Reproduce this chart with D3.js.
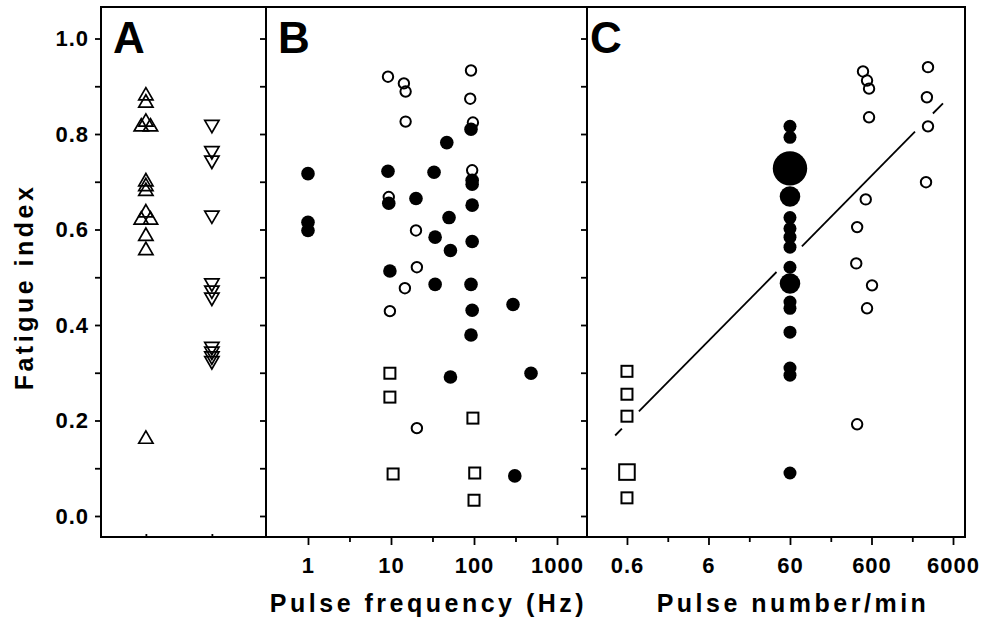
<!DOCTYPE html>
<html>
<head>
<meta charset="utf-8">
<script src="https://cdn.jsdelivr.net/npm/d3@7"></script>
<style>
  body { margin: 0; background: #fff; }
  text { font-family: "Liberation Sans", Arial, sans-serif; fill: #000; }
</style>
</head>
<body>
<div id="chart"></div>
<script>
// ---- data ----
// panel A (no x axis values, two groups)
const aUpGroup = [1, 1, 1, 0.93, 1.07, 1, 1, 1, 1, 0.93, 1.07, 1, 1, 1];
const aUpFatigue = [0.88, 0.865, 0.825, 0.815, 0.815, 0.70, 0.69, 0.68, 0.635, 0.62, 0.62, 0.586, 0.556, 0.161];
const aDownGroup = [2, 2, 2, 2, 2, 2, 2, 2, 2, 2, 2];
const aDownFatigue = [0.82, 0.765, 0.745, 0.63, 0.488, 0.473, 0.458, 0.355, 0.345, 0.335, 0.325];

// panel B: pulse frequency (Hz)
const bOpenHz = [9.2, 14.3, 15, 15, 92, 90, 97, 95, 9.4, 20, 20.5, 14.7, 9.7, 20.5];
const bOpenFatigue = [0.92, 0.906, 0.889, 0.826, 0.933, 0.874, 0.824, 0.724, 0.668, 0.598, 0.521, 0.477, 0.429, 0.184];
const bFilledHz = [1, 1, 1, 47, 92, 9.2, 33, 95, 95, 9.4, 20, 95, 50, 34, 52, 95, 9.7, 34, 92, 295, 95, 92, 52, 486, 310];
const bFilledFatigue = [0.717, 0.615, 0.598, 0.782, 0.81, 0.722, 0.72, 0.703, 0.695, 0.655, 0.665, 0.651, 0.625, 0.584, 0.556, 0.575, 0.513, 0.485, 0.485, 0.443, 0.431, 0.379, 0.291, 0.299, 0.084];
const bSquareHz = [9.7, 9.7, 97, 10.6, 102, 100];
const bSquareFatigue = [0.299, 0.249, 0.205, 0.088, 0.09, 0.033];
const bMajorTicks = [1, 10, 100, 1000];
const bMinorTicks = [3.16, 31.6, 316];

// panel C: pulse number/min
const cOpenN = [472, 529, 560, 560, 2960, 2870, 2960, 2800, 510, 400, 390, 609, 529, 400];
const cOpenFatigue = [0.931, 0.912, 0.895, 0.835, 0.94, 0.877, 0.816, 0.699, 0.663, 0.605, 0.529, 0.483, 0.435, 0.192];
const cFilledN = [60, 60, 60, 60, 60, 60, 60, 60, 60, 60, 60, 60, 60, 60, 60, 60];
const cFilledFatigue = [0.816, 0.793, 0.728, 0.669, 0.625, 0.602, 0.584, 0.563, 0.521, 0.487, 0.448, 0.435, 0.385, 0.31, 0.295, 0.09];
const cFilledWeight = [1, 1, 7, 2.5, 1, 1, 1, 1, 1, 2.5, 1, 1, 1, 1, 1, 1];
const cSquareN = [0.6, 0.6, 0.6, 0.6, 0.6];
const cSquareFatigue = [0.303, 0.255, 0.209, 0.092, 0.038];
const cSquareWeight = [1, 1, 1, 2, 1];
const cMajorTicks = [0.6, 6, 60, 600, 6000];
const cMinorTicks = [1.9, 19, 190, 1900];

// regression line in C, drawn with gaps around the markers
const fitIntercept = 0.232;
const fitSlope = 0.173;
const fitDrawnRanges = [[0.43, 0.52], [0.84, 41], [84, 2050], [3400, 4520]];

const yMajor = [0, 0.2, 0.4, 0.6, 0.8, 1.0];
const yMinor = [0.1, 0.3, 0.5, 0.7, 0.9];

// ---- layout ----
const w = 984, h = 619;
const frameTop = 7, frameBottom = 537;
const xLeft = 101, xAB = 266, xBC = 587, xRight = 965;

const svg = d3.select("#chart").append("svg")
  .attr("width", w)
  .attr("height", h)
  .style("background", "#fff");

const y = d3.scaleLinear().domain([-0.044, 1.066]).range([frameBottom, frameTop]);
const xA = d3.scaleLinear().domain([0.32, 2.82]).range([xLeft, xAB]);
const xB = d3.scaleLog().domain([0.312, 2297]).range([xAB, xBC]);
const xC = d3.scaleLog().domain([0.194, 8420]).range([xBC, xRight]);
const rC = d3.scaleSqrt().domain([0, 1]).range([0, 6.5]);

// frame
svg.append("rect")
  .attr("x", xLeft).attr("y", frameTop)
  .attr("width", xRight - xLeft).attr("height", frameBottom - frameTop)
  .attr("fill", "none").attr("stroke", "#000").attr("stroke-width", 2);
[xAB, xBC].forEach(function(x){
  svg.append("line")
    .attr("x1", x).attr("x2", x).attr("y1", frameTop).attr("y2", frameBottom)
    .attr("stroke", "#000").attr("stroke-width", 2);
});

function styleAxis(g, fs){
  g.select(".domain").remove();
  g.selectAll("line").attr("stroke", "#000").attr("stroke-width", 1.8);
  g.selectAll("text")
    .attr("fill", "#000")
    .style("font-size", fs + "px")
    .style("font-weight", "bold")
    .style("letter-spacing", "1px")
    .style("font-family", '"Liberation Sans", Arial, sans-serif');
}

// y axis (left, labelled)
svg.append("g").attr("transform", `translate(${xLeft},0)`)
  .call(d3.axisLeft(y).tickValues(yMajor).tickSize(6).tickPadding(6).tickFormat(d3.format(".1f")))
  .call(styleAxis, 22);
svg.append("g").attr("transform", `translate(${xLeft},0)`)
  .call(d3.axisLeft(y).tickValues(yMinor).tickSize(6).tickFormat(""))
  .call(styleAxis, 22);
// ticks on the panel dividers, pointing left
[xAB, xBC].forEach(function(x){
  svg.append("g").attr("transform", `translate(${x},0)`)
    .call(d3.axisLeft(y).tickValues(yMajor.concat(yMinor)).tickSize(6).tickFormat(""))
    .call(styleAxis, 22);
});

// bottom axes
svg.append("g").attr("transform", `translate(0,${frameBottom})`)
  .call(d3.axisTop(xA).tickValues([1, 2]).tickSize(3).tickFormat(""))
  .call(styleAxis, 22);

svg.append("g").attr("transform", `translate(0,${frameBottom})`)
  .call(d3.axisBottom(xB).tickValues(bMajorTicks).tickSize(8).tickPadding(12).tickFormat(d3.format("d")))
  .call(styleAxis, 22);
svg.append("g").attr("transform", `translate(0,${frameBottom})`)
  .call(d3.axisBottom(xB).tickValues(bMinorTicks).tickSize(5).tickFormat(""))
  .call(styleAxis, 22);

svg.append("g").attr("transform", `translate(0,${frameBottom})`)
  .call(d3.axisBottom(xC).tickValues(cMajorTicks).tickSize(8).tickPadding(12).tickFormat(d => String(d)))
  .call(styleAxis, 22);
svg.append("g").attr("transform", `translate(0,${frameBottom})`)
  .call(d3.axisBottom(xC).tickValues(cMinorTicks).tickSize(5).tickFormat(""))
  .call(styleAxis, 22);

// axis titles
const titleStyle = function(t){
  t.style("font-size", "25px").style("font-weight", "bold").style("letter-spacing", "3.5px");
};
svg.append("text")
  .attr("transform", "translate(33,287) rotate(-90)")
  .attr("text-anchor", "middle")
  .call(titleStyle)
  .text("Fatigue index");
svg.append("text")
  .attr("x", (xAB + xBC) / 2 + 2).attr("y", 612)
  .attr("text-anchor", "middle")
  .call(titleStyle)
  .text("Pulse frequency (Hz)");
svg.append("text")
  .attr("x", 793).attr("y", 612)
  .attr("text-anchor", "middle")
  .call(titleStyle)
  .text("Pulse number/min");

// panel letters
[["A", 113], ["B", 278], ["C", 590]].forEach(function(p){
  svg.append("text")
    .attr("x", p[1]).attr("y", 53)
    .style("font-size", "44px")
    .style("font-weight", "bold")
    .text(p[0]);
});

// ---- panel A ----
const tri = d3.symbol().type(d3.symbolTriangle).size(88);
const aUp = aUpGroup.map((g, i) => ({g: g, v: aUpFatigue[i]}));
const aDown = aDownGroup.map((g, i) => ({g: g, v: aDownFatigue[i]}));

svg.append("g").selectAll("path")
  .data(aUp).enter().append("path")
  .attr("d", tri)
  .attr("transform", d => `translate(${xA(d.g)},${y(d.v)})`)
  .attr("fill", "none").attr("stroke", "#000").attr("stroke-width", 1.7);

svg.append("g").selectAll("path")
  .data(aDown).enter().append("path")
  .attr("d", tri)
  .attr("transform", d => `translate(${xA(d.g)},${y(d.v)}) rotate(180)`)
  .attr("fill", "none").attr("stroke", "#000").attr("stroke-width", 1.7);

// ---- panel B ----
const bOpen = bOpenHz.map((f, i) => ({f: f, v: bOpenFatigue[i]}));
const bFilled = bFilledHz.map((f, i) => ({f: f, v: bFilledFatigue[i]}));
const bSquare = bSquareHz.map((f, i) => ({f: f, v: bSquareFatigue[i]}));

svg.append("g").selectAll("circle")
  .data(bOpen).enter().append("circle")
  .attr("cx", d => xB(d.f)).attr("cy", d => y(d.v)).attr("r", 5.2)
  .attr("fill", "none").attr("stroke", "#000").attr("stroke-width", 2);

svg.append("g").selectAll("circle")
  .data(bFilled).enter().append("circle")
  .attr("cx", d => xB(d.f)).attr("cy", d => y(d.v)).attr("r", 6.8)
  .attr("fill", "#000");

svg.append("g").selectAll("rect")
  .data(bSquare).enter().append("rect")
  .attr("x", d => xB(d.f) - 5.5).attr("y", d => y(d.v) - 5.5)
  .attr("width", 11).attr("height", 11)
  .attr("fill", "none").attr("stroke", "#000").attr("stroke-width", 2);

// ---- panel C ----
const fitLine = d3.line()
  .x(d => xC(d))
  .y(d => y(fitIntercept + fitSlope * Math.log10(d)));
svg.append("g").selectAll("path")
  .data(fitDrawnRanges).enter().append("path")
  .attr("d", d => fitLine(d))
  .attr("fill", "none").attr("stroke", "#000").attr("stroke-width", 1.8);

const cOpen = cOpenN.map((n, i) => ({n: n, v: cOpenFatigue[i]}));
const cFilled = cFilledN.map((n, i) => ({n: n, v: cFilledFatigue[i], k: cFilledWeight[i]}));
const cSquare = cSquareN.map((n, i) => ({n: n, v: cSquareFatigue[i], k: cSquareWeight[i]}));

svg.append("g").selectAll("circle")
  .data(cOpen).enter().append("circle")
  .attr("cx", d => xC(d.n)).attr("cy", d => y(d.v)).attr("r", 5.2)
  .attr("fill", "none").attr("stroke", "#000").attr("stroke-width", 2);

svg.append("g").selectAll("circle")
  .data(cFilled).enter().append("circle")
  .attr("cx", d => xC(d.n)).attr("cy", d => y(d.v)).attr("r", d => rC(d.k))
  .attr("fill", "#000");

svg.append("g").selectAll("rect")
  .data(cSquare).enter().append("rect")
  .attr("x", d => xC(d.n) - 5.5 * Math.sqrt(d.k)).attr("y", d => y(d.v) - 5.5 * Math.sqrt(d.k))
  .attr("width", d => 11 * Math.sqrt(d.k)).attr("height", d => 11 * Math.sqrt(d.k))
  .attr("fill", "none").attr("stroke", "#000").attr("stroke-width", 2);
</script>
</body>
</html>
